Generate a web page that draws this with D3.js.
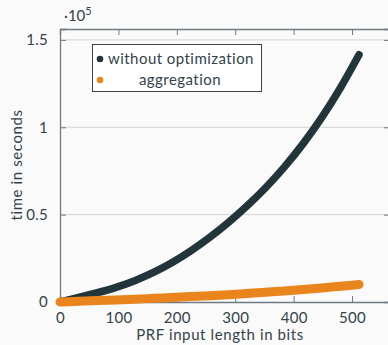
<!DOCTYPE html>
<html><head><meta charset="utf-8">
<script src="https://cdn.jsdelivr.net/npm/d3@7"></script>
<style>
html,body{margin:0;padding:0;background:#fafafa;}
svg{display:block;font-family:Lato,"DejaVu Sans",sans-serif;}
</style></head>
<body><svg id="c" width="388" height="345"></svg>
<script>
// data (time in units of 1e5 seconds)
const bits = [0,32,64,96,128,160,192,224,256,288,320,352,384,416,448,480,512];
const withoutOpt = [0,0.026,0.053,0.084,0.122,0.169,0.226,0.293,0.369,0.454,0.549,0.654,0.772,0.905,1.055,1.225,1.415];
const aggregation = [0,0.004,0.008,0.012,0.016,0.021,0.026,0.031,0.036,0.042,0.049,0.056,0.063,0.071,0.08,0.09,0.1];
const xTicks = [0,100,200,300,400,500];
const yTicks = [0,0.5,1,1.5];
const yTickLabels = ["0","0.5","1","1.5"];
const seriesNames = ["without optimization","aggregation"];

const svg = d3.select("#c");
const L=60, R=390, T=29, B=302;
const x = d3.scaleLinear().domain([0,565]).range([L,R]);
const y = d3.scaleLinear().domain([0,1.5625]).range([B,T]);
const axisCol="#6f7a80", textCol="#34434a";

// grid
svg.append("g").selectAll("line").data(yTicks.slice(1)).join("line")
  .attr("x1",L).attr("x2",R).attr("y1",d=>y(d)).attr("y2",d=>y(d))
  .attr("stroke","#d2d2d2").attr("stroke-width",1);

// axes
const xb = svg.append("g").attr("transform",`translate(0,${B})`)
  .call(d3.axisBottom(x).tickValues(xTicks).tickSize(-6).tickPadding(10).tickFormat(d3.format("d")));
const xt = svg.append("g").attr("transform",`translate(0,${T})`)
  .call(d3.axisTop(x).tickValues(xTicks.slice(1)).tickSize(-6).tickFormat(""));
const yl = svg.append("g").attr("transform",`translate(${L},0)`)
  .call(d3.axisLeft(y).tickValues(yTicks).tickSize(-6).tickPadding(12).tickFormat((d,i)=>yTickLabels[i]));
const yr = svg.append("g").attr("transform",`translate(${R},0)`)
  .call(d3.axisRight(y).tickValues(yTicks.slice(1)).tickSize(-6).tickFormat(""));
[xb,xt,yl,yr].forEach(g=>{
  g.select(".domain").attr("stroke",axisCol).attr("stroke-width",1.3);
  g.selectAll(".tick line").attr("stroke",axisCol).attr("stroke-width",1);
  g.selectAll("text").attr("fill",textCol).attr("font-size",15).attr("font-family","Lato,sans-serif").attr("letter-spacing",0.3);
});
xb.selectAll(".tick").filter(d=>d===0).select("line").remove();

// series
const line = d3.line().x((d,i)=>x(bits[i])).y(d=>y(d)).curve(d3.curveMonotoneX);
svg.append("path").datum(withoutOpt).attr("d",line).attr("fill","none")
  .attr("stroke","#22353a").attr("stroke-width",7.5).attr("stroke-linecap","round").attr("stroke-linejoin","round");
svg.append("path").datum(aggregation).attr("d",line).attr("fill","none")
  .attr("stroke","#ea841d").attr("stroke-width",9).attr("stroke-linecap","round").attr("stroke-linejoin","round");

// exponent
const ex = svg.append("text").attr("x",64).attr("y",21).attr("fill",textCol).attr("font-size",15);
ex.append("tspan").text("·10");
ex.append("tspan").attr("dy",-6).attr("font-size",11).text("5");

// legend
const lg = svg.append("g");
lg.append("rect").attr("x",92.5).attr("y",44.5).attr("width",169).attr("height",47)
  .attr("fill","#ffffff").attr("stroke","#3a4449").attr("stroke-width",1);
const colors=["#22353a","#ea841d"];
lg.selectAll("circle").data(seriesNames).join("circle")
  .attr("cx",100).attr("cy",(d,i)=>59+i*21).attr("r",3.3).attr("fill",(d,i)=>colors[i]);
lg.append("text").attr("x",108).attr("y",64).attr("fill",textCol).attr("font-size",15).attr("letter-spacing",0.45).text(seriesNames[0]);
lg.append("text").attr("x",180).attr("y",85).attr("text-anchor","middle").attr("fill",textCol).attr("font-size",15).attr("letter-spacing",0.45).text(seriesNames[1]);

// axis labels
svg.append("text").attr("x",220).attr("y",340).attr("text-anchor","middle").attr("fill",textCol).attr("font-size",15).attr("letter-spacing",0.6).text("PRF input length in bits");
svg.append("text").attr("transform","translate(22,165) rotate(-90)").attr("text-anchor","middle").attr("fill",textCol).attr("font-size",15).attr("letter-spacing",0.6).text("time in seconds");
</script></body></html>
